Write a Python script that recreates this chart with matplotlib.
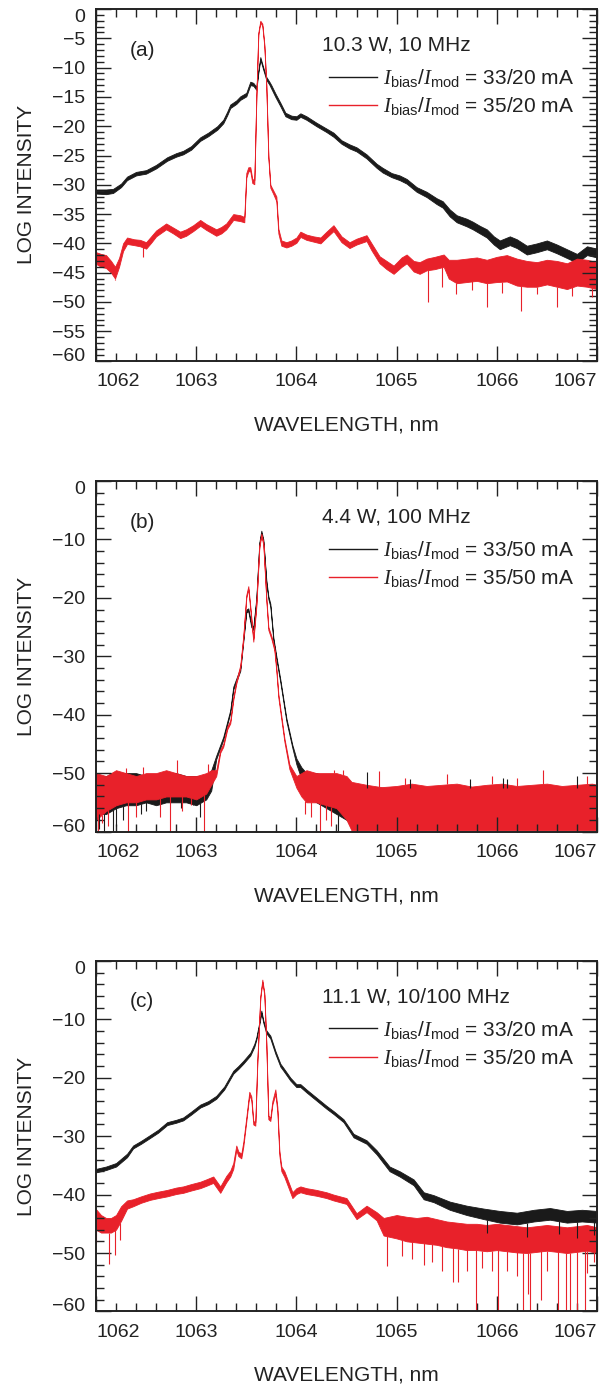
import numpy as np
import matplotlib.pyplot as plt
from matplotlib.lines import Line2D
from matplotlib.ticker import MultipleLocator

plt.rcParams['font.family'] = ['Liberation Sans', 'DejaVu Sans']
plt.rcParams['mathtext.fontset'] = 'custom'
plt.rcParams['mathtext.rm'] = 'Liberation Sans'
plt.rcParams['mathtext.it'] = 'Liberation Serif:italic'

BLACK = '#1a1a1a'
RED = '#e8212a'

# ---- (a) 10.3 W, 10 MHz ----
a_blk_wl = [1062.00, 1062.10, 1062.17, 1062.25, 1062.31, 1062.40, 1062.50, 1062.60, 1062.71, 1062.80,
            1062.87, 1062.95, 1063.04, 1063.12, 1063.21, 1063.27, 1063.31, 1063.34, 1063.40, 1063.44,
            1063.50, 1063.54, 1063.57, 1063.60, 1063.62, 1063.64, 1063.67, 1063.70, 1063.73, 1063.75,
            1063.79, 1063.84, 1063.89, 1063.95, 1064.00, 1064.04, 1064.10, 1064.20, 1064.30, 1064.37,
            1064.45, 1064.53, 1064.60, 1064.70, 1064.80, 1064.86, 1064.95, 1065.03, 1065.10, 1065.20,
            1065.30, 1065.40, 1065.46, 1065.53, 1065.60, 1065.70, 1065.76, 1065.83, 1065.90, 1065.97,
            1066.03, 1066.13, 1066.20, 1066.30, 1066.40, 1066.50, 1066.60, 1066.70, 1066.80, 1066.90,
            1067.00]
a_blk_hi = [-30.8, -30.8, -30.7, -29.8, -28.6, -27.8, -27.5, -26.6, -25.3, -24.6,
            -24.2, -23.4, -21.9, -21.1, -20.0, -18.9, -17.5, -16.3, -15.6, -14.9,
            -14.3, -12.4, -12.6, -13.3, -10.5, -8.2, -10.0, -11.6, -12.4, -13.0,
            -14.4, -16.0, -17.7, -18.2, -18.3, -17.8, -18.3, -19.4, -20.4, -21.1,
            -22.4, -23.1, -23.6, -24.8, -26.4, -27.1, -28.0, -28.4, -29.0, -30.4,
            -31.2, -32.3, -32.8, -34.2, -35.2, -35.8, -36.3, -37.0, -37.6, -38.8,
            -39.5, -38.8, -39.3, -40.4, -40.0, -39.5, -40.2, -41.0, -41.8, -40.5,
            -40.9]
a_blk_lo = [-31.5, -31.6, -31.4, -30.4, -29.2, -28.4, -28.1, -27.2, -25.9, -25.2,
            -24.8, -24.0, -22.5, -21.7, -20.6, -19.5, -18.1, -16.9, -16.2, -15.5,
            -14.9, -13.0, -13.1, -13.8, -10.9, -8.6, -10.4, -12.1, -12.9, -13.6,
            -15.0, -16.6, -18.3, -18.8, -18.9, -18.4, -18.9, -20.0, -21.0, -21.8,
            -23.0, -23.8, -24.3, -25.5, -27.1, -27.9, -28.7, -29.2, -29.8, -31.2,
            -32.1, -33.3, -33.9, -35.4, -36.4, -37.1, -37.6, -38.3, -39.0, -40.2,
            -41.0, -40.3, -40.8, -41.9, -41.5, -41.0, -41.7, -42.5, -43.3, -42.0,
            -42.4]
a_blk_spike_wl = []
a_blk_spike_db = []

a_red_wl = [1062.00, 1062.05, 1062.10, 1062.15, 1062.19, 1062.23, 1062.27, 1062.31, 1062.38, 1062.44,
            1062.50, 1062.55, 1062.60, 1062.70, 1062.77, 1062.84, 1062.90, 1062.97, 1063.04, 1063.10,
            1063.20, 1063.25, 1063.30, 1063.37, 1063.44, 1063.48, 1063.50, 1063.52, 1063.54, 1063.56,
            1063.58, 1063.60, 1063.62, 1063.64, 1063.66, 1063.68, 1063.70, 1063.72, 1063.74, 1063.77,
            1063.80, 1063.82, 1063.85, 1063.90, 1063.95, 1064.00, 1064.04, 1064.10, 1064.17, 1064.24,
            1064.30, 1064.37, 1064.45, 1064.53, 1064.60, 1064.70, 1064.75, 1064.83, 1064.90, 1064.97,
            1065.05, 1065.10, 1065.17, 1065.23, 1065.30, 1065.38, 1065.47, 1065.52, 1065.60, 1065.70,
            1065.80, 1065.90, 1066.00, 1066.10, 1066.20, 1066.30, 1066.40, 1066.50, 1066.60, 1066.70,
            1066.80, 1066.90, 1067.00]
a_red_hi = [-41.5, -41.8, -42.0, -43.0, -44.0, -42.5, -40.0, -39.0, -39.3, -39.4,
            -39.8, -38.8, -37.8, -36.6, -37.3, -38.0, -37.6, -36.9, -36.0, -36.7,
            -37.6, -37.2, -36.6, -35.0, -35.2, -35.5, -28.0, -27.0, -27.0, -29.0,
            -29.2, -15.0, -4.0, -2.0, -2.5, -6.0, -13.0, -25.0, -30.0, -31.0,
            -32.0, -37.5, -39.5, -39.8, -39.5, -39.0, -38.0, -38.5, -38.8, -39.0,
            -38.0, -36.9, -38.8, -39.8, -39.2, -38.6, -40.0, -42.2, -43.0, -43.8,
            -42.4, -41.9, -43.0, -43.2, -42.6, -42.3, -41.9, -42.8, -42.8, -42.6,
            -42.4, -42.8, -42.3, -42.0, -42.6, -43.0, -43.2, -42.8, -43.0, -43.4,
            -42.6, -42.8, -43.2]
a_red_lo = [-43.5, -44.0, -44.2, -45.0, -46.0, -44.0, -41.3, -40.1, -40.3, -40.5,
            -40.9, -39.9, -38.8, -37.6, -38.3, -39.1, -38.7, -37.9, -37.0, -37.7,
            -38.7, -38.3, -37.6, -36.0, -36.2, -36.4, -28.8, -27.7, -27.7, -29.7,
            -29.9, -15.4, -4.4, -2.3, -2.9, -6.4, -13.4, -25.4, -30.5, -31.6,
            -32.8, -38.3, -40.4, -40.7, -40.4, -39.9, -38.9, -39.4, -39.7, -40.0,
            -39.0, -37.9, -39.8, -40.8, -40.2, -39.6, -41.2, -43.4, -44.4, -45.2,
            -44.0, -43.4, -44.8, -45.2, -44.6, -44.4, -44.0, -46.0, -46.8, -46.6,
            -46.4, -46.8, -46.6, -46.5, -47.2, -47.4, -47.4, -47.0, -47.4, -47.8,
            -47.2, -47.4, -47.8]
a_red_spike_wl = [1062.19, 1062.47, 1065.31, 1065.45, 1065.59, 1065.75, 1065.90, 1066.05, 1066.24,
                  1066.40, 1066.60, 1066.75, 1066.95, 1067.00]
a_red_spike_db = [-46.3, -42.4, -50.0, -47.5, -48.6, -48.0, -50.9, -48.5, -51.5,
                  -48.6, -50.9, -49.0, -49.2, -50.3]

# ---- (b) 4.4 W, 100 MHz ----
b_blk_wl = [1062.00, 1062.10, 1062.20, 1062.30, 1062.40, 1062.50, 1062.60, 1062.70, 1062.80, 1062.90,
            1063.00, 1063.10, 1063.15, 1063.20, 1063.27, 1063.34, 1063.37, 1063.44, 1063.47, 1063.50,
            1063.52, 1063.55, 1063.57, 1063.60, 1063.63, 1063.65, 1063.67, 1063.70, 1063.72, 1063.74,
            1063.77, 1063.80, 1063.84, 1063.90, 1063.96, 1064.00, 1064.05, 1064.10, 1064.20, 1064.30,
            1064.40, 1064.50, 1064.60, 1064.80, 1065.00, 1065.20, 1065.40, 1065.60, 1065.80, 1066.00,
            1066.20, 1066.40, 1066.60, 1066.80, 1067.00]
b_blk_hi = [-51.0, -50.5, -50.0, -50.0, -50.0, -50.5, -50.5, -50.0, -50.0, -50.5,
            -50.5, -50.5, -49.5, -47.0, -43.8, -39.2, -35.2, -32.0, -27.0, -22.0,
            -21.8, -24.5, -25.0, -20.0, -10.5, -8.5, -10.0, -17.0, -19.7, -21.0,
            -26.8, -30.0, -34.0, -40.6, -45.2, -47.5, -49.0, -50.0, -50.0, -50.5,
            -50.5, -51.5, -52.5, -52.5, -52.5, -52.5, -52.5, -52.5, -52.5, -52.5,
            -52.5, -52.5, -52.5, -52.5, -52.5]
b_blk_lo = [-57.0, -57.0, -56.0, -55.5, -55.5, -55.0, -55.5, -55.0, -55.0, -55.0,
            -55.5, -54.5, -53.0, -47.6, -44.3, -39.7, -35.7, -32.5, -27.5, -22.5,
            -22.3, -25.0, -25.5, -20.5, -10.9, -8.9, -10.4, -17.5, -20.2, -21.5,
            -27.3, -30.5, -34.5, -41.1, -45.7, -48.5, -51.0, -54.0, -55.0, -56.0,
            -57.0, -58.0, -59.0, -59.5, -59.5, -59.5, -59.5, -59.5, -59.5, -59.5,
            -59.5, -59.5, -59.5, -59.5, -59.5]
b_blk_spike_wl = [1062.03, 1062.08, 1062.17, 1062.20, 1062.27, 1062.45, 1062.50, 1062.85, 1062.97,
                  1063.04, 1064.42, 1064.70, 1065.13, 1065.73, 1066.06, 1066.10, 1066.80]
b_blk_spike_db = [-59.5, -60.0, -60.0, -59.0, -58.0, -57.0, -56.5, -56.0, -55.5,
                  -57.5, -60.0, -49.8, -51.0, -51.0, -50.8, -51.0, -50.5]

b_red_wl = [1062.00, 1062.10, 1062.20, 1062.30, 1062.40, 1062.50, 1062.60, 1062.70, 1062.80, 1062.90,
            1063.00, 1063.10, 1063.15, 1063.20, 1063.24, 1063.27, 1063.31, 1063.34, 1063.37, 1063.40,
            1063.44, 1063.47, 1063.50, 1063.52, 1063.54, 1063.57, 1063.60, 1063.63, 1063.65, 1063.67,
            1063.70, 1063.72, 1063.75, 1063.78, 1063.80, 1063.82, 1063.84, 1063.88, 1063.93, 1064.00,
            1064.05, 1064.10, 1064.20, 1064.30, 1064.40, 1064.50, 1064.55, 1064.70, 1064.85, 1065.00,
            1065.15, 1065.30, 1065.45, 1065.60, 1065.75, 1065.90, 1066.05, 1066.20, 1066.35, 1066.50,
            1066.65, 1066.80, 1066.95, 1067.00]
b_red_hi = [-50.0, -50.5, -49.5, -50.0, -50.5, -50.0, -50.0, -49.5, -50.0, -50.5,
            -50.5, -50.0, -49.5, -49.5, -46.0, -45.0, -42.0, -41.0, -37.0, -34.2,
            -31.5, -26.5, -19.5, -18.0, -21.5, -27.0, -21.0, -11.0, -9.0, -10.5,
            -20.0, -25.0, -26.5, -28.5, -32.0, -36.5, -39.0, -44.0, -48.5, -50.5,
            -50.0, -49.5, -50.0, -50.0, -50.0, -50.5, -51.5, -52.0, -52.4, -52.2,
            -51.8, -52.2, -52.0, -51.8, -52.3, -52.0, -51.8, -52.2, -52.0, -51.8,
            -52.2, -52.0, -51.8, -52.0]
b_red_lo = [-58.0, -56.5, -55.5, -55.0, -55.0, -54.5, -54.5, -54.0, -54.0, -54.0,
            -54.5, -53.5, -52.0, -50.5, -46.5, -45.5, -42.5, -41.5, -37.5, -34.7,
            -32.0, -27.0, -20.0, -18.5, -22.0, -27.5, -21.5, -11.4, -9.4, -10.9,
            -20.5, -25.5, -27.0, -29.0, -32.6, -37.1, -39.6, -44.6, -49.3, -52.5,
            -54.0, -55.0, -55.0, -55.5, -56.0, -58.0, -59.8, -59.8, -59.8, -59.8,
            -59.8, -59.8, -59.8, -59.8, -59.8, -59.8, -59.8, -59.8, -59.8, -59.8,
            -59.8, -59.8, -59.8, -59.8]
b_red_spike_wl = [1062.02, 1062.06, 1062.12, 1062.30, 1062.32, 1062.40, 1062.47, 1062.64, 1062.74,
                  1062.81, 1062.86, 1062.95, 1063.08, 1063.12, 1064.09, 1064.15, 1064.24, 1064.30,
                  1064.35, 1064.38, 1064.47, 1064.82, 1065.08, 1065.50, 1065.95, 1066.20, 1066.46,
                  1066.90]
b_red_spike_db = [-60.0, -58.5, -59.0, -49.2, -60.0, -57.5, -49.0, -57.5, -60.0,
                  -47.8, -56.5, -55.5, -60.0, -48.5, -57.0, -57.5, -60.0, -58.0,
                  -59.0, -49.5, -49.5, -49.6, -50.8, -50.2, -50.5, -50.8, -49.5,
                  -50.5]

# ---- (c) 11.1 W, 10/100 MHz ----
c_blk_wl = [1062.00, 1062.10, 1062.20, 1062.31, 1062.37, 1062.45, 1062.54, 1062.62, 1062.71, 1062.80,
            1062.87, 1062.95, 1063.04, 1063.12, 1063.20, 1063.28, 1063.37, 1063.42, 1063.47, 1063.54,
            1063.58, 1063.60, 1063.63, 1063.65, 1063.67, 1063.70, 1063.74, 1063.79, 1063.84, 1063.87,
            1063.94, 1064.00, 1064.04, 1064.10, 1064.20, 1064.30, 1064.37, 1064.47, 1064.57, 1064.70,
            1064.80, 1064.93, 1065.03, 1065.17, 1065.27, 1065.37, 1065.53, 1065.70, 1065.87, 1066.03,
            1066.20, 1066.37, 1066.53, 1066.70, 1066.85, 1067.00]
c_blk_hi = [-35.6, -35.2, -34.6, -33.0, -31.6, -30.8, -29.8, -28.9, -27.6, -27.2,
            -26.8, -25.8, -24.6, -24.0, -23.1, -21.5, -18.8, -18.0, -17.1, -15.7,
            -14.2, -13.1, -10.5, -8.5, -10.2, -11.9, -12.8, -15.4, -17.6, -18.3,
            -20.0, -21.1, -21.1, -22.0, -23.4, -24.8, -25.7, -27.1, -29.6, -30.7,
            -32.4, -35.2, -36.0, -37.4, -39.6, -40.1, -41.2, -41.9, -42.4, -42.8,
            -43.1, -42.6, -42.3, -42.8, -42.6, -42.8]
c_blk_lo = [-36.2, -35.8, -35.2, -33.6, -32.1, -31.3, -30.3, -29.4, -28.1, -27.7,
            -27.3, -26.3, -25.1, -24.5, -23.6, -22.0, -19.3, -18.5, -17.6, -16.2,
            -14.7, -13.5, -10.9, -8.9, -10.6, -12.4, -13.3, -15.9, -18.1, -18.8,
            -20.5, -21.6, -21.6, -22.5, -23.9, -25.3, -26.2, -27.6, -30.2, -31.3,
            -33.1, -36.0, -36.9, -38.4, -40.8, -41.3, -42.6, -43.5, -44.2, -44.8,
            -45.1, -44.6, -44.3, -44.8, -44.6, -44.8]
c_blk_spike_wl = [1065.90, 1066.30, 1066.62, 1066.80, 1066.97]
c_blk_spike_db = [-46.5, -47.2, -46.8, -47.5, -47.0]

c_red_wl = [1062.00, 1062.05, 1062.10, 1062.15, 1062.20, 1062.25, 1062.31, 1062.37, 1062.45, 1062.54,
            1062.62, 1062.71, 1062.80, 1062.87, 1062.95, 1063.04, 1063.10, 1063.17, 1063.24, 1063.30,
            1063.34, 1063.37, 1063.40, 1063.42, 1063.45, 1063.47, 1063.50, 1063.53, 1063.55, 1063.57,
            1063.59, 1063.61, 1063.64, 1063.66, 1063.68, 1063.70, 1063.72, 1063.74, 1063.76, 1063.79,
            1063.81, 1063.83, 1063.85, 1063.88, 1063.92, 1063.96, 1064.00, 1064.04, 1064.10, 1064.20,
            1064.30, 1064.37, 1064.50, 1064.60, 1064.70, 1064.80, 1064.87, 1065.00, 1065.10, 1065.20,
            1065.30, 1065.40, 1065.50, 1065.60, 1065.70, 1065.80, 1065.90, 1066.00, 1066.10, 1066.20,
            1066.30, 1066.40, 1066.50, 1066.60, 1066.70, 1066.80, 1066.90, 1067.00]
c_red_hi = [-42.5, -43.5, -44.0, -44.0, -43.5, -42.0, -41.0, -40.8, -40.3, -39.8,
            -39.5, -39.2, -38.8, -38.6, -38.2, -37.8, -37.4, -36.9, -38.6, -36.8,
            -35.9, -34.6, -31.6, -32.6, -33.0, -31.0, -26.8, -22.4, -23.2, -27.4,
            -27.6, -17.0, -6.0, -3.2, -5.5, -14.0, -26.5, -26.8, -24.0, -22.0,
            -25.0, -32.5, -35.2, -36.0, -37.8, -39.6, -38.9, -38.6, -38.9, -39.2,
            -39.6, -40.0, -40.6, -43.2, -41.9, -43.0, -44.0, -43.5, -43.8, -44.0,
            -43.8, -44.2, -44.6, -44.8, -45.0, -45.0, -45.2, -45.0, -45.2, -45.4,
            -45.6, -45.4, -45.2, -45.4, -45.6, -45.4, -45.2, -45.6]
c_red_lo = [-46.0, -46.5, -46.5, -46.5, -46.0, -44.5, -42.4, -42.0, -41.4, -40.9,
            -40.6, -40.3, -39.9, -39.7, -39.3, -38.9, -38.5, -38.0, -39.7, -37.9,
            -36.9, -35.6, -32.4, -33.4, -33.8, -31.8, -27.5, -23.0, -23.8, -28.0,
            -28.2, -17.5, -6.4, -3.6, -5.9, -14.5, -27.1, -27.4, -24.6, -22.8,
            -25.8, -33.3, -36.0, -37.0, -38.8, -40.6, -39.9, -39.6, -39.9, -40.2,
            -40.6, -41.0, -41.6, -44.2, -43.0, -44.4, -47.0, -47.5, -48.0, -48.2,
            -48.4, -48.6, -49.0, -49.2, -49.5, -49.5, -49.7, -49.5, -49.7, -49.9,
            -50.0, -49.8, -49.6, -49.8, -50.0, -49.8, -49.6, -50.0]
c_red_spike_wl = [1062.00, 1062.13, 1062.19, 1062.24, 1064.90, 1065.05, 1065.15, 1065.27, 1065.35,
                  1065.45, 1065.56, 1065.61, 1065.70, 1065.79, 1065.85, 1065.95, 1066.01, 1066.10,
                  1066.20, 1066.26, 1066.31, 1066.33, 1066.44, 1066.50, 1066.61, 1066.69, 1066.73,
                  1066.80, 1066.88, 1066.90, 1066.97]
c_red_spike_db = [-48.3, -51.8, -50.3, -47.8, -52.3, -50.5, -51.0, -52.0, -51.5,
                  -53.0, -54.9, -54.9, -53.0, -60.0, -52.5, -53.0, -60.0, -53.0,
                  -54.0, -60.0, -57.0, -60.0, -58.0, -53.0, -60.0, -60.0, -60.0,
                  -60.0, -60.0, -53.5, -51.5]

panels = [
    dict(tag='(a)', title='10.3 W, 10 MHz', currents=['33/20 mA', '35/20 mA'],
         ystep=5, yminor=1,
         black=(a_blk_wl, a_blk_hi, a_blk_lo, a_blk_spike_wl, a_blk_spike_db),
         red=(a_red_wl, a_red_hi, a_red_lo, a_red_spike_wl, a_red_spike_db)),
    dict(tag='(b)', title='4.4 W, 100 MHz', currents=['33/50 mA', '35/50 mA'],
         ystep=10, yminor=2,
         black=(b_blk_wl, b_blk_hi, b_blk_lo, b_blk_spike_wl, b_blk_spike_db),
         red=(b_red_wl, b_red_hi, b_red_lo, b_red_spike_wl, b_red_spike_db)),
    dict(tag='(c)', title='11.1 W, 10/100 MHz', currents=['33/20 mA', '35/20 mA'],
         ystep=10, yminor=2,
         black=(c_blk_wl, c_blk_hi, c_blk_lo, c_blk_spike_wl, c_blk_spike_db),
         red=(c_red_wl, c_red_hi, c_red_lo, c_red_spike_wl, c_red_spike_db)),
]

# axes boxes [left, bottom, width, height] in figure fraction
boxes = [[0.160, 0.7408, 0.835, 0.2527],
         [0.160, 0.4022, 0.835, 0.2520],
         [0.160, 0.0572, 0.835, 0.2520]]


def draw_trace(ax, data, color):
    wl, hi, lo, sx, sy = [np.asarray(v, dtype=float) for v in data]
    ax.fill_between(wl, lo, hi, color=color, lw=0.6)
    if len(sx):
        lo_at = np.interp(sx, wl, lo)
        hi_at = np.interp(sx, wl, hi)
        base = np.where(sy < lo_at, lo_at, hi_at)
        ax.vlines(sx, base, sy, color=color, lw=0.8)


fig = plt.figure(figsize=(6, 13.91), dpi=100)
ink = '#222222'

for p, box in zip(panels, boxes):
    ax = fig.add_axes(box)
    draw_trace(ax, p['black'], BLACK)
    draw_trace(ax, p['red'], RED)

    ax.set_xlim(1062, 1067)
    ax.set_ylim(-60, 0)
    xt = list(range(1062, 1068))
    ax.set_xticks(xt, labels=[str(v) for v in xt])
    yt = list(range(-60, 1, p['ystep']))
    ax.set_yticks(yt, labels=[('\u2212%d' % -v) if v else '0' for v in yt])
    ax.xaxis.set_minor_locator(MultipleLocator(0.2))
    ax.yaxis.set_minor_locator(MultipleLocator(p['yminor']))
    ax.tick_params(which='both', direction='in', top=True, right=True,
                   width=1.0, color=ink, labelsize=14, labelcolor=ink)
    ax.tick_params(which='major', length=11)
    ax.tick_params(which='minor', length=5.5)
    ax.tick_params(axis='x', pad=9)
    ax.tick_params(axis='y', pad=8)
    for s in ax.spines.values():
        s.set_linewidth(1.4)
        s.set_color(ink)

    # end labels sit inside the frame
    xl = ax.get_xticklabels()
    xl[0].set_horizontalalignment('left')
    xl[-1].set_horizontalalignment('right')
    yl = ax.get_yticklabels()
    yl[-1].set_verticalalignment('top')
    yl[0].set_verticalalignment('baseline')

    ax.set_xlabel('WAVELENGTH, nm', fontsize=15, labelpad=18, color=ink)
    ax.set_ylabel('LOG INTENSITY', fontsize=15, labelpad=11, color=ink)

    ax.text(0.068, 0.883, p['tag'], transform=ax.transAxes, fontsize=15,
            ha='left', va='center', color=ink)
    ax.text(0.451, 0.898, p['title'], transform=ax.transAxes, fontsize=15,
            ha='left', va='center', color=ink)
    lab = r'$I_{\rm bias}/I_{\rm mod}$ = '
    handles = [Line2D([], [], color=BLACK, lw=1.0), Line2D([], [], color=RED, lw=1.0)]
    ax.legend(handles, [lab + c for c in p['currents']],
              loc='upper left', bbox_to_anchor=(0.465, 0.835), frameon=False,
              fontsize=15, handlelength=2.3, handletextpad=0.3, labelspacing=0.3,
              borderpad=0, borderaxespad=0, labelcolor=ink)

fig.savefig('out.png', dpi=100)
